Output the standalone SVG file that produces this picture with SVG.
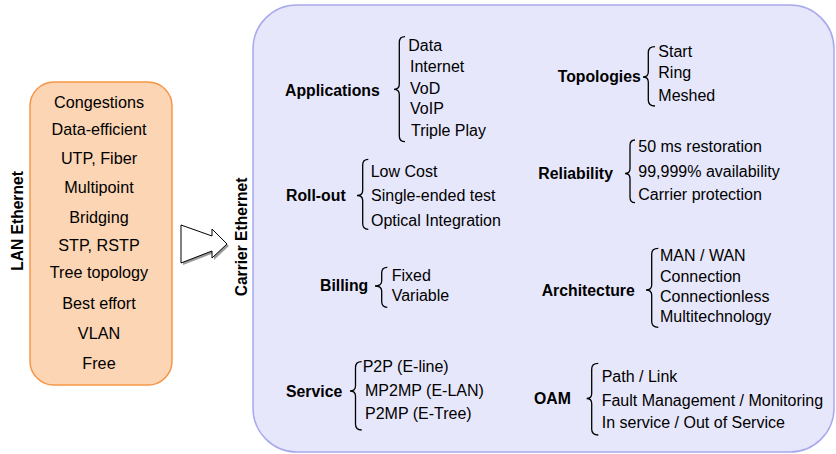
<svg xmlns="http://www.w3.org/2000/svg" width="836" height="454" viewBox="0 0 836 454">
  <style>
    text { font-family: "Liberation Sans", Arial, sans-serif; fill: #000; }
    .item { font-size: 16px; }
    .lan { font-size: 16.2px; text-anchor: middle; }
    .head { font-size: 15.8px; font-weight: bold; }
    .side { font-size: 15.6px; font-weight: bold; text-anchor: middle; }
    .brace { fill: none; stroke: #000; stroke-width: 1.3; }
  </style>

  <!-- LAN Ethernet panel -->
  <g id="lan-ethernet">
    <rect x="30" y="82" width="142" height="303" rx="24" ry="24" fill="#fcd5b4" stroke="#f79646" stroke-width="1.5"/>
    <text class="side" transform="translate(22.5,221) rotate(-90)">LAN Ethernet</text>
    <text class="lan" x="99" y="107.5">Congestions</text>
    <text class="lan" x="99" y="135">Data-efficient</text>
    <text class="lan" x="99" y="164">UTP, Fiber</text>
    <text class="lan" x="99" y="193">Multipoint</text>
    <text class="lan" x="99" y="222.5">Bridging</text>
    <text class="lan" x="99" y="250.5">STP, RSTP</text>
    <text class="lan" x="99" y="277.5">Tree topology</text>
    <text class="lan" x="99" y="309">Best effort</text>
    <text class="lan" x="99" y="339">VLAN</text>
    <text class="lan" x="99" y="368.5">Free</text>
  </g>

  <!-- transition arrow -->
  <g id="connectors">
    <polygon points="183,227 214,238 214,231 229,246 214,260 214,253 183,265" fill="#9a9a9a"/>
    <polygon points="181,225 212,236 212,229 227,244 212,258 212,251 181,263" fill="#fff" stroke="#000" stroke-width="1"/>
  </g>

  <!-- Carrier Ethernet panel -->
  <g id="carrier-ethernet">
    <rect x="253" y="5" width="581" height="447" rx="44" ry="44" fill="#e7e7fb" stroke="#a9a9ee" stroke-width="1.5"/>
    <text class="side" transform="translate(246.5,237) rotate(-90)">Carrier Ethernet</text>
  </g>

  <g id="applications">
    <text class="head" x="285" y="95.5">Applications</text>
    <path class="brace" d="M405,36.7 Q399.3,36.7 399.3,42.5 L399.3,84 Q399.3,89.3 394,89.3 Q399.3,89.3 399.3,94.6 L399.3,136 Q399.3,141.7 405,141.7"/>
    <text class="item" x="408.3" y="51.3">Data</text>
    <text class="item" x="410" y="72.3">Internet</text>
    <text class="item" x="410" y="93.9">VoD</text>
    <text class="item" x="410" y="113.9">VoIP</text>
    <text class="item" x="411" y="136.3">Triple Play</text>
  </g>

  <g id="roll-out">
    <text class="head" x="286" y="200.6">Roll-out</text>
    <path class="brace" d="M368.3,159.3 Q362.7,159.3 362.7,165 L362.7,190.5 Q362.7,195.5 357,195.5 Q362.7,195.5 362.7,200.5 L362.7,223.6 Q362.7,229.3 368.3,229.3"/>
    <text class="item" x="370.7" y="177.3">Low Cost</text>
    <text class="item" x="371" y="200.6">Single-ended test</text>
    <text class="item" x="371" y="225.6">Optical Integration</text>
  </g>

  <g id="billing">
    <text class="head" x="320" y="290.6">Billing</text>
    <path class="brace" d="M387.3,267.3 Q381.7,267.3 381.7,273 L381.7,281 Q381.7,286 375,286 Q381.7,286 381.7,291 L381.7,301.6 Q381.7,307.3 387.3,307.3"/>
    <text class="item" x="391.7" y="281.3">Fixed</text>
    <text class="item" x="391.7" y="301.3">Variable</text>
  </g>

  <g id="service">
    <text class="head" x="286" y="396.6">Service</text>
    <path class="brace" d="M361.7,361.7 Q355.5,361.7 355.5,367.5 L355.5,386 Q355.5,391 350,391 Q355.5,391 355.5,396 L355.5,424.3 Q355.5,430 361.7,430"/>
    <text class="item" x="362.7" y="372.3">P2P (E-line)</text>
    <text class="item" x="365" y="396.3">MP2MP (E-LAN)</text>
    <text class="item" x="365" y="418.9">P2MP (E-Tree)</text>
  </g>

  <g id="topologies">
    <text class="head" x="557.7" y="82.3">Topologies</text>
    <path class="brace" d="M655,46.7 Q648.3,46.7 648.3,52.5 L648.3,72 Q648.3,77 643,77 Q648.3,77 648.3,82 L648.3,100.3 Q648.3,106 655,106"/>
    <text class="item" x="658.3" y="57.3">Start</text>
    <text class="item" x="658.3" y="77.9">Ring</text>
    <text class="item" x="658.3" y="100.6">Meshed</text>
  </g>

  <g id="reliability">
    <text class="head" x="538.3" y="178.9">Reliability</text>
    <path class="brace" d="M635,140 Q630,140 630,145.5 L630,168.5 Q630,173.5 625,173.5 Q630,173.5 630,178.5 L630,197.2 Q630,202.7 635,202.7"/>
    <text class="item" x="638.3" y="152.3">50 ms restoration</text>
    <text class="item" x="638.3" y="177.3">99,999% availability</text>
    <text class="item" x="638.3" y="199.9">Carrier protection</text>
  </g>

  <g id="architecture">
    <text class="head" x="541.7" y="295.6">Architecture</text>
    <path class="brace" d="M658.3,248.3 Q651.7,248.3 651.7,254 L651.7,285 Q651.7,290 646,290 Q651.7,290 651.7,295 L651.7,321.6 Q651.7,327.3 658.3,327.3"/>
    <text class="item" x="660" y="260.6">MAN / WAN</text>
    <text class="item" x="660" y="281.6">Connection</text>
    <text class="item" x="660" y="301.6">Connectionless</text>
    <text class="item" x="660" y="322.3">Multitechnology</text>
  </g>

  <g id="oam">
    <text class="head" x="534" y="403.9">OAM</text>
    <path class="brace" d="M598.3,363.3 Q591.7,363.3 591.7,369 L591.7,393.5 Q591.7,398.5 586.7,398.5 Q591.7,398.5 591.7,403.5 L591.7,429.3 Q591.7,435 598.3,435"/>
    <text class="item" x="601.7" y="382.3">Path / Link</text>
    <text class="item" x="601.7" y="405.6">Fault Management / Monitoring</text>
    <text class="item" x="601.7" y="428.3">In service / Out of Service</text>
  </g>
</svg>
